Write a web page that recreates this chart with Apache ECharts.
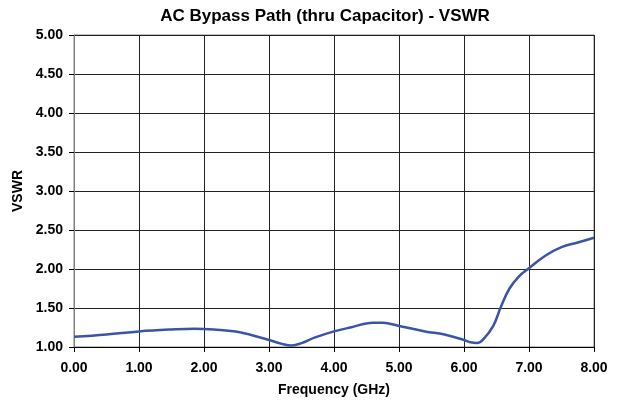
<!DOCTYPE html>
<html><head><meta charset="utf-8">
<script src="https://cdn.jsdelivr.net/npm/echarts@6/dist/echarts.min.js"></script>
<style>html,body{margin:0;padding:0;background:#fff}#c{width:618px;height:402px}</style>
</head><body><div id="c"></div>
<script>
const freq = [0.0, 0.5, 1.0, 1.5, 1.85, 2.15, 2.55, 3.0, 3.2, 3.35, 3.5, 3.7, 4.0, 4.25, 4.6, 4.75, 5.0, 5.4, 5.7, 6.0, 6.1, 6.2, 6.3, 6.45, 6.57, 6.7, 6.85, 7.0, 7.25, 7.5, 7.75, 8.0];
const vswr = [1.13, 1.16, 1.20, 1.225, 1.235, 1.225, 1.19, 1.09, 1.04, 1.02, 1.05, 1.12, 1.20, 1.25, 1.31, 1.31, 1.27, 1.20, 1.16, 1.09, 1.06, 1.05, 1.10, 1.27, 1.52, 1.75, 1.91, 2.01, 2.17, 2.28, 2.34, 2.40];
const xTicks = [0, 8, 1];
const yTicks = [1, 5, 0.5];
const chart = echarts.init(document.getElementById('c'));
const font = 'Liberation Sans, Arial, sans-serif';
chart.setOption({
  animation: false,
  title: { text: 'AC Bypass Path (thru Capacitor) - VSWR', left: 320, textAlign: 'center', top: 3,
    textStyle: { fontFamily: font, fontWeight: 'bold', fontSize: 17, color: '#000' } },
  grid: { left: 74, right: 24, top: 35, bottom: 54, show: true, borderColor: '#808080', borderWidth: 1 },
  xAxis: { type: 'value', min: xTicks[0], max: xTicks[1], interval: xTicks[2],
    name: 'Frequency (GHz)', nameLocation: 'middle', nameGap: 36,
    nameTextStyle: { fontFamily: font, fontWeight: 'bold', fontSize: 14, color: '#000' },
    axisLine: { lineStyle: { color: '#000' } },
    axisTick: { show: true, inside: false, length: 5, lineStyle: { color: '#000' } },
    axisLabel: { formatter: v => v.toFixed(2), fontFamily: font, fontWeight: 'bold', fontSize: 14, color: '#000', margin: 14 },
    splitLine: { show: true, lineStyle: { color: '#222', width: 1 } } },
  yAxis: { type: 'value', min: yTicks[0], max: yTicks[1], interval: yTicks[2],
    name: 'VSWR', nameLocation: 'middle', nameGap: 47, nameRotate: 90,
    nameTextStyle: { fontFamily: font, fontWeight: 'bold', fontSize: 14, color: '#000' },
    axisLine: { show: true, lineStyle: { color: '#808080' } },
    axisTick: { show: true, inside: false, length: 5, lineStyle: { color: '#000' } },
    axisLabel: { formatter: v => v.toFixed(2), fontFamily: font, fontWeight: 'bold', fontSize: 14, color: '#000', margin: 11 },
    splitLine: { show: true, lineStyle: { color: '#222', width: 1 } } },
  series: [{ type: 'line', data: freq.map((f, i) => [f, vswr[i]]), smooth: 0.4, showSymbol: false,
    lineStyle: { color: '#3a55a6', width: 2.5 } }]
});
</script></body></html>
